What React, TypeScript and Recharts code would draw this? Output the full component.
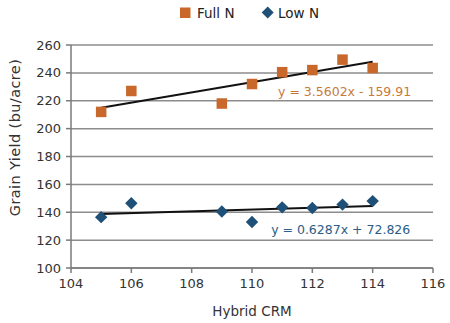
import React from 'react';
import {
  ComposedChart,
  Scatter,
  Line,
  XAxis,
  YAxis,
  CartesianGrid,
  Legend,
  ReferenceDot,
} from 'recharts';

const hybridCRM = [105, 106, 109, 110, 111, 112, 113, 114];
const fullN = [212, 227, 218, 232, 240.5, 242, 249.5, 243.5];
const lowN = [136.5, 146.5, 140.5, 133, 143.5, 143, 145.5, 148];

const fullTrendX = [105, 114];
const fullTrendY = [215, 248];
const lowTrendX = [105, 114];
const lowTrendY = [138.8, 144.5];

const xTicks = [104, 106, 108, 110, 112, 114, 116];
const yTicks = [100, 120, 140, 160, 180, 200, 220, 240, 260];

const fullEq = 'y = 3.5602x - 159.91';
const lowEq = 'y = 0.6287x + 72.826';
const xTitle = 'Hybrid CRM';
const yTitle = 'Grain Yield (bu/acre)';

const ORANGE = '#c8682a';
const BLUE = '#1f5078';
const ORANGE_TEXT = '#c87a3c';
const BLUE_TEXT = '#2b5d88';
const FONT = '"DejaVu Sans", Verdana, sans-serif';

const fullData = hybridCRM.map((x, i) => ({ x, y: fullN[i] }));
const lowData = hybridCRM.map((x, i) => ({ x, y: lowN[i] }));
const fullTrend = fullTrendX.map((x, i) => ({ x, y: fullTrendY[i] }));
const lowTrend = lowTrendX.map((x, i) => ({ x, y: lowTrendY[i] }));

const SquareShape = (props: any) => {
  const { cx, cy } = props;
  const s = 10.5;
  return <rect x={cx - s / 2} y={cy - s / 2} width={s} height={s} fill={ORANGE} />;
};

const DiamondShape = (props: any) => {
  const { cx, cy } = props;
  const r = 6.2;
  return (
    <polygon
      points={`${cx},${cy - r} ${cx + r},${cy} ${cx},${cy + r} ${cx - r},${cy}`}
      fill={BLUE}
    />
  );
};

const LegendContent = () => (
  <div style={{ position: 'relative', height: 20, fontFamily: FONT, fontSize: 13.5, color: '#222' }}>
    <svg style={{ position: 'absolute', left: 179, top: 0 }} width={13} height={20}>
      <rect x={1} y={4.5} width={10.5} height={10.5} fill={ORANGE} />
    </svg>
    <span style={{ position: 'absolute', left: 197, top: 2 }}>Full N</span>
    <svg style={{ position: 'absolute', left: 260, top: 0 }} width={16} height={20}>
      <polygon points="7.7,3.5 13.7,9.5 7.7,15.5 1.7,9.5" fill={BLUE} />
    </svg>
    <span style={{ position: 'absolute', left: 278, top: 2 }}>Low N</span>
  </div>
);

const YTitle = () => (
  <text
    x={15}
    y={137.5}
    transform="rotate(-90 15 137.5)"
    textAnchor="middle"
    dominantBaseline="central"
    fill="#333"
    fontSize={14.5}
    letterSpacing={0.4}
    fontFamily={FONT}
  >
    {yTitle}
  </text>
);

export default function App() {
  return (
    <div style={{ position: 'absolute', left: 0, top: 0, background: '#fff' }}>
      <ComposedChart
        width={450}
        height={323}
        margin={{ top: 25, right: 17, bottom: 0, left: 0 }}
        style={{ fontFamily: FONT }}
      >
        <CartesianGrid horizontal vertical={false} stroke="#8c8c8c" strokeWidth={1.5} />
        <XAxis
          type="number"
          dataKey="x"
          domain={[104, 116]}
          ticks={xTicks}
          allowDataOverflow
          height={55}
          tickSize={5}
          tickMargin={6}
          stroke="#7a7a7a"
          strokeWidth={1.5}
          tick={{ fill: '#333', fontSize: 13, fontFamily: FONT }}
          label={{
            value: xTitle,
            position: 'insideBottom',
            offset: 7,
            fill: '#333',
            fontSize: 13.5,
            fontFamily: FONT,
          }}
        />
        <YAxis
          type="number"
          dataKey="y"
          domain={[100, 260]}
          ticks={yTicks}
          allowDataOverflow
          width={71}
          tickSize={5}
          tickMargin={5}
          stroke="#7a7a7a"
          strokeWidth={1.5}
          tick={{ fill: '#333', fontSize: 13, fontFamily: FONT }}
          label={{ content: <YTitle /> }}
        />
        <Legend verticalAlign="top" wrapperStyle={{ top: 3, left: 0, width: 450 }} content={<LegendContent />} />
        <Scatter data={fullData} dataKey="y" shape={<SquareShape />} isAnimationActive={false} />
        <Scatter data={lowData} dataKey="y" shape={<DiamondShape />} isAnimationActive={false} />
        <Line
          data={fullTrend}
          dataKey="y"
          stroke="#111"
          strokeWidth={2}
          dot={false}
          activeDot={false}
          isAnimationActive={false}
        />
        <Line
          data={lowTrend}
          dataKey="y"
          stroke="#111"
          strokeWidth={2}
          dot={false}
          activeDot={false}
          isAnimationActive={false}
        />
        <ReferenceDot
          x={113.07}
          y={226.4}
          r={0}
          fill="none"
          stroke="none"
          label={{ value: fullEq, position: 'center', fill: ORANGE_TEXT, fontSize: 12.5, fontFamily: FONT }}
        />
        <ReferenceDot
          x={112.94}
          y={127.8}
          r={0}
          fill="none"
          stroke="none"
          label={{ value: lowEq, position: 'center', fill: BLUE_TEXT, fontSize: 12.5, fontFamily: FONT }}
        />
      </ComposedChart>
    </div>
  );
}
